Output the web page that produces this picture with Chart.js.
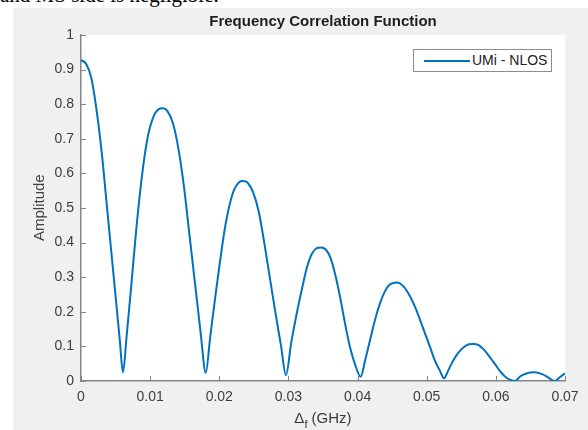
<!DOCTYPE html>
<html>
<head>
<meta charset="utf-8">
<title>Frequency Correlation Function</title>
<script src="https://cdn.jsdelivr.net/npm/chart.js@4.4.0/dist/chart.umd.min.js"></script>
<style>
	html, body { margin: 0; padding: 0; background: #fff; }
	body { width: 588px; height: 430px; position: relative; overflow: hidden; font-family: "Liberation Sans", Arial, sans-serif; }
	.page-text { position: absolute; left: 0; top: -15px; font-family: "Liberation Serif", "Times New Roman", serif; font-size: 21px; line-height: 21px; color: #000; white-space: nowrap; }
	.fig-panel { position: absolute; left: 13px; top: 8px; right: 0; bottom: 0; background: #f0f0f0; }
	#fcf-canvas { position: absolute; left: 0; top: 0; }
	.fig-title { position: absolute; left: 81px; width: 484px; top: 12px; text-align: center; font-weight: bold; font-size: 15px; color: #1e1e1e; }
	.fig-ylabel { position: absolute; left: 30px; top: 172px; height: 72px; writing-mode: vertical-rl; transform: rotate(180deg); text-align: center; font-size: 15px; font-weight: normal; color: #404040; white-space: nowrap; }
	.fig-xlabel { position: absolute; left: 81px; width: 484px; top: 409px; text-align: center; font-size: 15px; color: #3a3a3a; }
	.fig-xlabel sub { font-size: 11px; vertical-align: -5px; }
	.fig-legend { position: absolute; left: 413px; top: 49px; width: 137px; height: 21px; background: #fff; border: 1px solid #8c8c8c; font-size: 14px; color: #222; }
	.fig-legend .swatch { position: absolute; left: 10px; top: 10px; width: 46px; height: 2px; background: #0072bd; }
	.fig-legend .label { position: absolute; left: 58px; top: 2px; }
</style>
</head>
<body>
<div class="page-text">and MS side is negligible.</div>
<div class="fig-panel"></div>
<canvas id="fcf-canvas" width="588" height="430"></canvas>
<div class="fig-title">Frequency Correlation Function</div>
<div class="fig-ylabel">Amplitude</div>
<div class="fig-xlabel">&Delta;<sub>f</sub> (GHz)</div>
<div class="fig-legend"><span class="swatch"></span><span class="label">UMi - NLOS</span></div>

<script>
	'use strict';

	// data (GHz vs amplitude)
	var seriesName = 'UMi - NLOS';
	var deltaF = [
		0, 0.0008, 0.0015, 0.0022, 0.003, 0.0037, 0.0044, 0.0052, 0.0056, 0.00607,
		0.0066, 0.0072, 0.008, 0.0088, 0.0096, 0.0104, 0.0112, 0.01186,
		0.0125, 0.0133, 0.0141, 0.0149, 0.0157, 0.0165, 0.0173, 0.01804,
		0.0187, 0.0194, 0.0201, 0.0208, 0.0215, 0.0222, 0.0229, 0.02339,
		0.0241, 0.0249, 0.0257, 0.0265, 0.0273, 0.0281, 0.0289, 0.02965,
		0.0304, 0.0312, 0.032, 0.0327, 0.0334, 0.0341, 0.03471,
		0.0354, 0.0361, 0.0368, 0.0375, 0.0382, 0.0389, 0.0396, 0.04045,
		0.0411, 0.0418, 0.0425, 0.0432, 0.0439, 0.0446, 0.04575,
		0.0467, 0.0476, 0.0484, 0.0491, 0.0498, 0.0505, 0.0512, 0.0519, 0.0525,
		0.0531, 0.0538, 0.0545, 0.0553, 0.0561, 0.05674,
		0.0575, 0.0583, 0.0591, 0.0599, 0.0607, 0.0615, 0.06277,
		0.0635, 0.0643, 0.06556, 0.0667, 0.0676, 0.06846, 0.0692, 0.07
	];
	var amplitude = [
		0.928, 0.915, 0.875, 0.79, 0.66, 0.515, 0.37, 0.204, 0.12, 0.025,
		0.13, 0.26, 0.44, 0.59, 0.70, 0.76, 0.785, 0.788,
		0.78, 0.745, 0.67, 0.56, 0.42, 0.28, 0.14, 0.024,
		0.13, 0.24, 0.345, 0.44, 0.51, 0.555, 0.575, 0.578,
		0.573, 0.545, 0.49, 0.40, 0.30, 0.20, 0.105, 0.017,
		0.11, 0.195, 0.27, 0.33, 0.368, 0.384, 0.386,
		0.38, 0.355, 0.305, 0.24, 0.165, 0.098, 0.05, 0.0125,
		0.06, 0.118, 0.175, 0.222, 0.257, 0.278, 0.285,
		0.272, 0.244, 0.21, 0.173, 0.135, 0.097, 0.058, 0.03, 0.008,
		0.03, 0.058, 0.08, 0.097, 0.106, 0.107,
		0.104, 0.09, 0.07, 0.048, 0.026, 0.01, 0.0,
		0.013, 0.021, 0.025, 0.02, 0.01, 0.0, 0.01, 0.022
	];

	var xTicks = [0, 0.01, 0.02, 0.03, 0.04, 0.05, 0.06, 0.07];
	var xTickLabels = ['0', '0.01', '0.02', '0.03', '0.04', '0.05', '0.06', '0.07'];
	var yTicks = [0, 0.1, 0.2, 0.3, 0.4, 0.5, 0.6, 0.7, 0.8, 0.9, 1];
	var yTickLabels = ['0', '0.1', '0.2', '0.3', '0.4', '0.5', '0.6', '0.7', '0.8', '0.9', '1'];

	var axisColor = '#858585';
	var tickFont = { family: '"Liberation Sans", Arial, sans-serif', size: 14 };

	// white plot background like matlab axes
	var plotBackground = {
		id: 'plotBackground',
		beforeDraw: function(chart) {
			var a = chart.chartArea, ctx = chart.ctx;
			ctx.save();
			ctx.fillStyle = '#ffffff';
			ctx.fillRect(a.left, a.top, a.right - a.left, a.bottom - a.top);
			ctx.restore();
		}
	};

	// matlab draws its tick marks inside the axes
	var inwardTicks = {
		id: 'inwardTicks',
		afterDatasetsDraw: function(chart) {
			var a = chart.chartArea, ctx = chart.ctx;
			var xs = chart.scales.x, ys = chart.scales.y;
			ctx.save();
			ctx.strokeStyle = axisColor;
			ctx.lineWidth = 1;
			ctx.beginPath();
			xTicks.forEach(function(v) {
				var px = Math.round(xs.getPixelForValue(v)) + 0.5;
				ctx.moveTo(px, a.bottom);
				ctx.lineTo(px, a.bottom - 5);
			});
			yTicks.forEach(function(v) {
				var py = Math.round(ys.getPixelForValue(v)) + 0.5;
				ctx.moveTo(a.left, py);
				ctx.lineTo(a.left + 5, py);
			});
			ctx.stroke();
			ctx.restore();
		}
	};

	function setTicks(values) {
		return function(scale) {
			scale.ticks = values.map(function(v) { return { value: v }; });
		};
	}

	var points = deltaF.map(function(f, i) { return { x: f, y: amplitude[i] }; });

	var ctx = document.getElementById('fcf-canvas');
	var fcfChart = new Chart(ctx, {
		type: 'line',
		data: {
			datasets: [{
				label: seriesName,
				data: points,
				borderColor: '#0072bd',
				borderWidth: 2,
				pointRadius: 0,
				fill: false,
				cubicInterpolationMode: 'monotone'
			}]
		},
		options: {
			responsive: false,
			animation: false,
			layout: { padding: { top: 35, right: 23, left: 0, bottom: 0 } },
			plugins: {
				legend: { display: false },
				title: { display: false },
				tooltip: { enabled: false }
			},
			scales: {
				x: {
					type: 'linear',
					min: 0,
					max: 0.07,
					afterBuildTicks: setTicks(xTicks),
					afterFit: function(scale) { scale.height = 49; },
					grid: { display: true, drawOnChartArea: false, drawTicks: false },
					border: { display: true, color: axisColor, width: 1.5 },
					ticks: {
						padding: 8,
						color: '#3c3c3c',
						font: tickFont,
						maxRotation: 0,
						autoSkip: false,
						callback: function(v, i) { return xTickLabels[i]; }
					}
				},
				y: {
					type: 'linear',
					min: 0,
					max: 1,
					afterBuildTicks: setTicks(yTicks),
					afterFit: function(scale) { scale.width = 81; },
					grid: { display: true, drawOnChartArea: false, drawTicks: false },
					border: { display: true, color: axisColor, width: 1.5 },
					ticks: {
						padding: 7,
						color: '#3c3c3c',
						font: tickFont,
						autoSkip: false,
						callback: function(v, i) { return yTickLabels[i]; }
					}
				}
			}
		},
		plugins: [plotBackground, inwardTicks]
	});
</script>
</body>
</html>
